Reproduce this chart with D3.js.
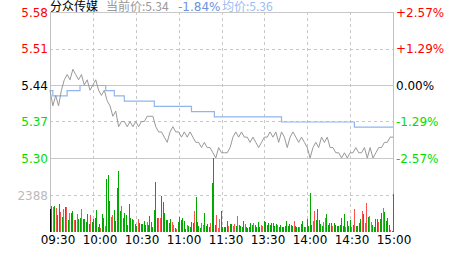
<!DOCTYPE html>
<meta charset="utf-8">
<html>
<style>
body { margin: 0; background: #fff; }
text { font-family: "DejaVu Sans", sans-serif; font-size: 12px; }
.cjk { font-family: "Noto Sans CJK SC", "DejaVu Sans", sans-serif; }
</style>
<body>
<svg width="463" height="255"></svg>
<script src="https://d3js.org/d3.v7.min.js"></script>
<script>
// header
var stockName = "分众传媒";
var lastPrice = 5.34, lastChange = -1.84, avgPrice = 5.36;
var prevClose = 5.44;

// axes
var priceTicks = [5.58, 5.51, 5.44, 5.37, 5.30];
var timeLabels = ["09:30", "10:00", "10:30", "11:00", "11:30", "13:30", "14:00", "14:30", "15:00"];
var gridMinutes = [30, 60, 90, 120, 150, 180, 210];
var volTick = 2388;

// price every 2 minutes, minute 0..240
var price = [5.43,5.40,5.42,5.40,5.43,5.45,5.46,5.45,5.47,5.46,
 5.45,5.46,5.44,5.45,5.43,5.44,5.45,5.43,5.42,5.43,
 5.41,5.40,5.38,5.39,5.36,5.37,5.37,5.36,5.37,5.36,
 5.37,5.36,5.37,5.37,5.38,5.38,5.38,5.36,5.35,5.35,
 5.34,5.33,5.35,5.36,5.35,5.35,5.34,5.35,5.34,5.35,
 5.34,5.33,5.33,5.32,5.33,5.32,5.32,5.31,5.30,5.32,
 5.31,5.31,5.31,5.32,5.34,5.35,5.34,5.35,5.34,5.34,
 5.33,5.34,5.33,5.32,5.33,5.34,5.34,5.35,5.34,5.35,
 5.33,5.35,5.34,5.32,5.34,5.35,5.34,5.33,5.34,5.33,
 5.32,5.30,5.32,5.33,5.32,5.34,5.33,5.34,5.32,5.32,
 5.31,5.31,5.30,5.31,5.30,5.31,5.31,5.32,5.31,5.31,
 5.32,5.30,5.32,5.30,5.31,5.32,5.32,5.33,5.33,5.34,5.34];

// average price steps
var avgTimes  = [0, 2, 12, 21, 39, 45, 52, 73, 99, 115, 162, 213, 240];
var avgValues = [5.43, 5.42, 5.43, 5.44, 5.43, 5.42, 5.41, 5.40, 5.39, 5.38, 5.37, 5.36, 5.36];

// volume bars (k = open, r = up, g = down)
var volume = [1484,1677,1591,1677,1570,1097,1806,1290,946,1484,
 1591,1591,774,1204,1247,1355,774,774,1140,817,
 882,1484,839,839,624,1161,516,1075,667,817,
 903,1419,344,516,280,1161,925,387,3419,3677,
 2000,968,1097,1419,710,2860,3935,1355,1677,882,
 1226,1097,452,1806,882,817,774,495,387,839,
 602,516,516,710,452,667,452,1032,667,344,
 1419,3225,882,903,903,2322,1957,1247,774,
 774,602,839,624,452,237,194,667,989,774,
 882,710,172,452,387,344,667,602,1355,2279,
 667,387,280,602,452,1247,387,516,344,559,
 3139,4752,452,1097,237,839,1355,344,344,344,
 731,409,516,516,387,516,387,1032,452,387,
 344,731,516,344,237,344,602,452,559,452,
 344,645,344,452,387,731,667,452,602,452,
 559,602,387,516,452,344,
 452,344,344,387,710,387,516,452,387,710,
 387,301,301,301,516,710,344,301,817,387,
 2494,452,731,1355,774,1484,774,516,387,667,
 925,1161,452,559,559,387,559,452,387,387,
 452,925,387,1161,301,731,387,774,344,452,
 1484,387,387,559,817,1376,1161,602,1892,946,
 1032,667,452,344,839,839,667,817,1204,1570,
 1312,731,882,452,129,64,2451];
var volDir = "kgrgrggrgr" + "grgrggrgrg" + "grgggggrgg" + "ggggrggrgg" + "grrgggggrg" +
 "ggggggrggr" + "gggggrgggg" + "gggrrgggg" +
 "gggrrgrggg" + "gggrggggrg" + "gggrrggggr" + "gggrrrgggg" + "grggrrgrgg" +
 "ggrgggggrg" + "gggrrggggg" + "ggggrg" +
 "gggggggggr" + "gggrgggrgg" + "ggrrgggggr" + "rggggrgggg" + "ggggrgggrg" +
 "rggggrgrrg" + "rrggggrggr" + "ggggrgg";

var svg = d3.select("svg");
var plot = { left: 50, right: 393, top: 12, priceBottom: 158, volBottom: 232 };

var x = d3.scaleLinear().domain([0, 240]).range([plot.left, plot.right]);
var y = d3.scaleLinear().domain([5.30, 5.58]).range([plot.priceBottom, plot.top]);
var yv = d3.scaleLinear().domain([0, volTick * 2]).range([plot.volBottom, plot.priceBottom]);
var xl = d3.scalePoint().domain(timeLabels).range([58, 394]);

var gridColor = "#c8c8c8";
var red = "#ff0000", green = "#00dd00";

// vertical dashed grid
svg.append("g").selectAll("line").data(gridMinutes).join("line")
  .attr("x1", d => Math.round(x(d)) + 0.5).attr("x2", d => Math.round(x(d)) + 0.5)
  .attr("y1", plot.top).attr("y2", plot.volBottom)
  .attr("stroke", gridColor).attr("stroke-dasharray", "3,3");

// horizontal grid
svg.append("g").selectAll("line").data(priceTicks).join("line")
  .attr("x1", plot.left).attr("x2", plot.right)
  .attr("y1", d => Math.round(y(d)) + 0.5).attr("y2", d => Math.round(y(d)) + 0.5)
  .attr("stroke", gridColor)
  .attr("stroke-dasharray", (d, i) => i % 2 ? "3,3" : null);

svg.append("line")
  .attr("x1", plot.left).attr("x2", plot.right)
  .attr("y1", Math.round(yv(volTick)) + 0.5).attr("y2", Math.round(yv(volTick)) + 0.5)
  .attr("stroke", gridColor).attr("stroke-dasharray", "3,3");

// frame sides
[plot.left, plot.right].forEach(function(px) {
  svg.append("line")
    .attr("x1", px + 0.5).attr("x2", px + 0.5)
    .attr("y1", plot.top).attr("y2", plot.volBottom)
    .attr("stroke", "#c0c0c0");
});

// volume bars
var n = volume.length;
var volColor = { k: "#000", r: "#ff5050", g: "#00a800" };
svg.append("g").selectAll("rect").data(volume).join("rect")
  .attr("x", (d, i) => Math.round(x(i * 240 / (n - 1))))
  .attr("width", 1)
  .attr("y", d => yv(d))
  .attr("height", d => plot.volBottom - yv(d))
  .attr("fill", (d, i) => volColor[volDir[i]])
  .attr("shape-rendering", "crispEdges");

// average line
var avgData = avgTimes.map((t, i) => [t, avgValues[i]]);
svg.append("path")
  .datum(avgData)
  .attr("fill", "none")
  .attr("stroke", "#8fb5f0")
  .attr("stroke-width", 1.2)
  .attr("d", d3.line().x(d => x(d[0])).y(d => y(d[1]) + 0.5).curve(d3.curveStepAfter));

// price line
svg.append("path")
  .datum(price)
  .attr("fill", "none")
  .attr("stroke", "#999")
  .attr("stroke-width", 1)
  .attr("d", d3.line().x((d, i) => x(i * 2)).y(d => y(d)));

// left price labels
function tickColor(p) {
  if (Math.abs(p - prevClose) < 1e-6) return "#000";
  return p > prevClose ? red : green;
}
svg.append("g").selectAll("text").data(priceTicks).join("text")
  .attr("x", 48).attr("y", d => y(d) + 4.5)
  .attr("text-anchor", "end")
  .attr("fill", tickColor)
  .text(d => d.toFixed(2));

svg.append("text")
  .attr("x", 48).attr("y", yv(volTick) + 4.5)
  .attr("text-anchor", "end")
  .attr("fill", "#bbb")
  .text(volTick);

// right percent labels
svg.append("g").selectAll("text").data(priceTicks).join("text")
  .attr("x", 396).attr("y", d => y(d) + 4.5)
  .attr("fill", tickColor)
  .text(function(d) {
    var pct = (d - prevClose) / prevClose * 100;
    return (pct > 0.001 ? "+" : "") + pct.toFixed(2) + "%";
  });

// time labels
svg.append("g").selectAll("text").data(timeLabels).join("text")
  .attr("x", d => xl(d)).attr("y", 243.5)
  .attr("text-anchor", "middle")
  .attr("fill", "#000")
  .text(d => d);

// header
svg.append("text").attr("class", "cjk").attr("x", 50).attr("y", 11)
  .attr("fill", "#000").text(stockName);
svg.append("text").attr("class", "cjk").attr("x", 106).attr("y", 11)
  .attr("fill", "#999").text("当前价:" + lastPrice.toFixed(2));
svg.append("text").attr("x", 178).attr("y", 11)
  .attr("fill", "#6a93e0").text(lastChange.toFixed(2) + "%");
svg.append("text").attr("class", "cjk").attr("x", 222).attr("y", 11)
  .attr("fill", "#9bbcf0").text("均价:" + avgPrice.toFixed(2));
</script>
</body>
</html>
